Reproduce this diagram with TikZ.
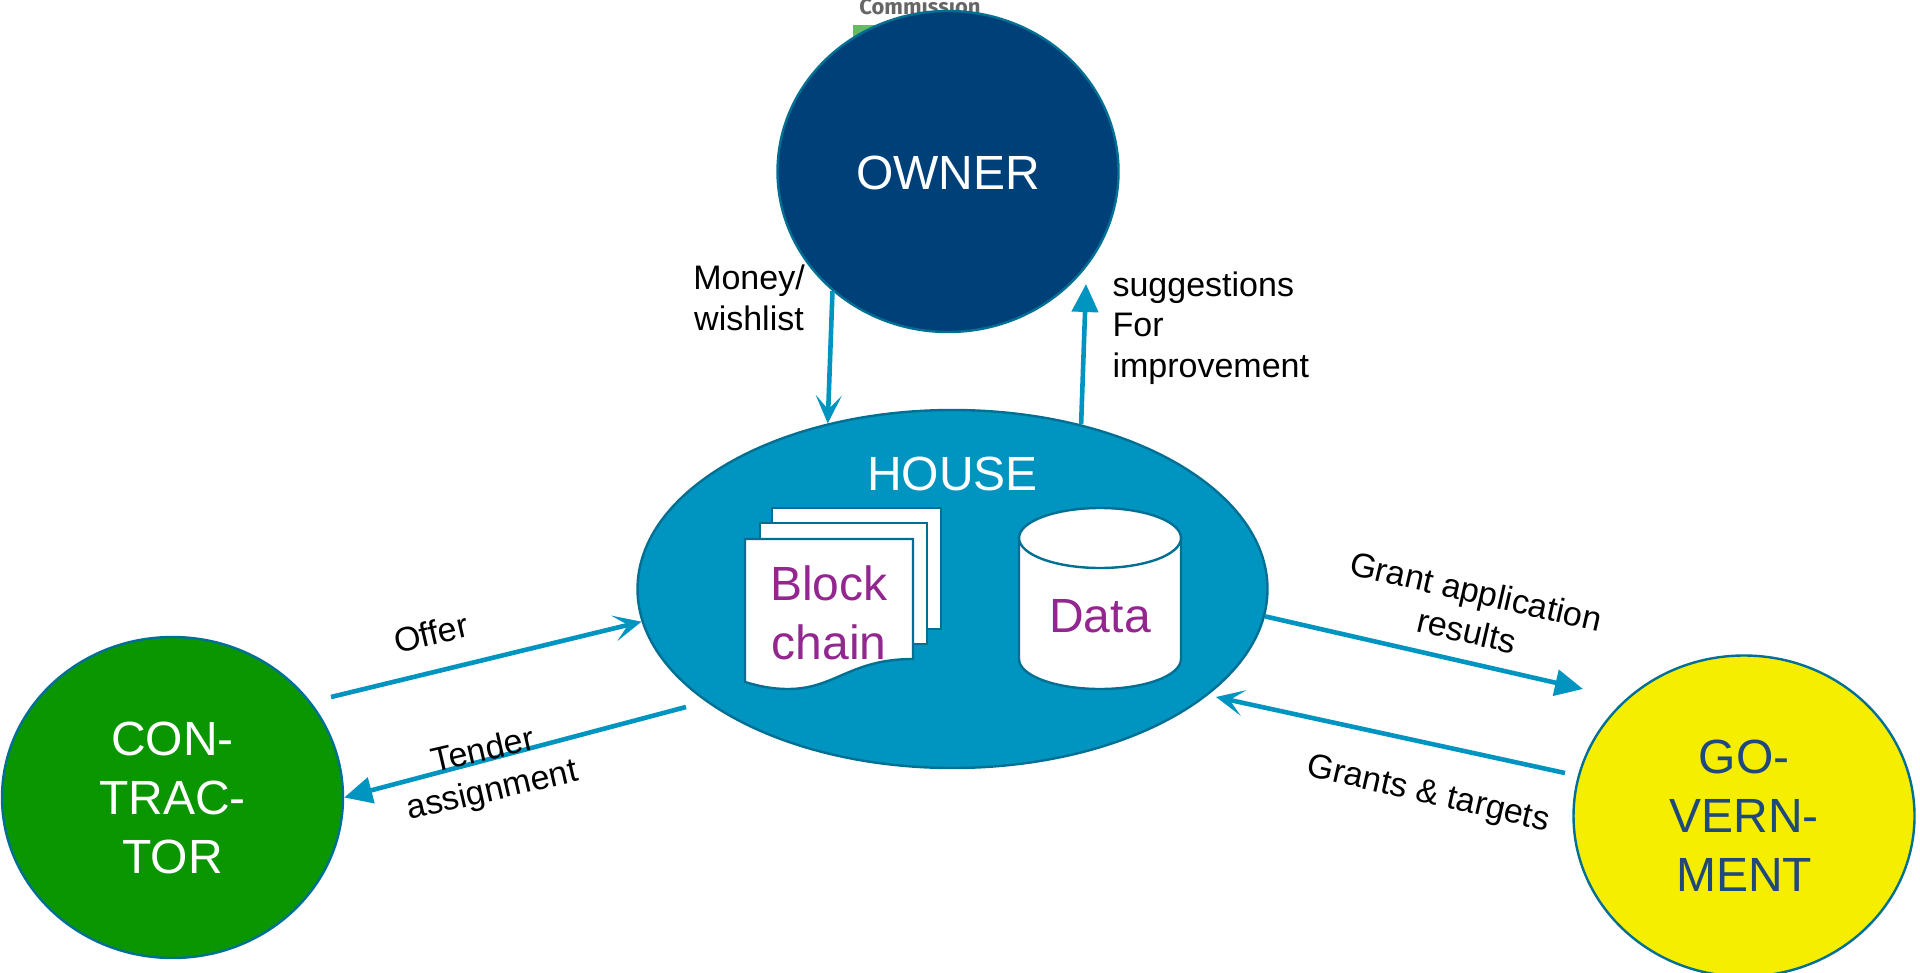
\documentclass[tikz,border=0pt]{standalone}
\usepackage{fontspec}
\setmainfont{Liberation Sans}
\newfontfamily\logofont{Fira Sans}
\usetikzlibrary{arrows.meta, shapes.geometric}

\definecolor{flowblue}{HTML}{0094C0}
\definecolor{edgeblue}{HTML}{006F94}
\definecolor{ownerblue}{HTML}{004078}
\definecolor{tradegreen}{HTML}{0A9600}
\definecolor{govyellow}{HTML}{F5EE00}
\definecolor{govtext}{HTML}{1F497D}
\definecolor{storepurple}{HTML}{93278F}

\tikzset{
	actor/.style = {ellipse, draw = edgeblue, line width = 1.2pt, inner sep = 0pt, align = center, font = \fontsize{24}{29.5}\selectfont},
	sheet/.style = {draw = edgeblue, fill = white, line width = 1.2pt},
	store/.style = {align = center, text = storepurple, font = \fontsize{24}{29.5}\selectfont},
	flow/.style = {color = flowblue, line width = 2.3pt},
	open/.style = {flow, -{Stealth[length = 14pt, width = 13pt, inset = 7pt]}},
	solid/.style = {flow, -{Triangle[length = 14pt, width = 13pt]}},
	lab/.style = {align = center, font = \fontsize{17}{20.3}\selectfont}
}

\begin{document}
\begin{tikzpicture}[x = 0.5pt, y = -0.5pt]

	\useasboundingbox (0, 0) rectangle (1920, 973);

	% Scrap of the slide behind the owner
	
	\fill [green!55!black!60!white] (853, 25) rectangle (900, 60);
	\node (commission) [anchor = base, text = black!60, font = \logofont\bfseries\fontsize{11}{13}\selectfont] at (920, 15) {Commission};

	% The four parties
	
	\node (owner) [actor, fill = ownerblue, text = white, minimum width = 170.5pt, minimum height = 160.5pt, text height = 18pt] at (948, 171.5) {OWNER};
	\node (house) [actor, fill = flowblue, minimum width = 315pt, minimum height = 179pt] at (952.5, 589) {};
	\node (contractor) [actor, fill = tradegreen, text = white, minimum width = 170.5pt, minimum height = 160.5pt] at (172.5, 797.5) {CON-\\TRAC-\\TOR};
	\node (government) [actor, fill = govyellow, text = govtext, minimum width = 170.5pt, minimum height = 160.5pt] at (1744, 816) {GO-\\VERN-\\MENT};
	
	\node (house-title) [text = white, font = \fontsize{24}{29}\selectfont] at (952.5, 474) {HOUSE};

	% Stack of sheets
	
	\draw [sheet] (772, 508) rectangle (941, 629);
	\draw [sheet] (760, 523) rectangle (927, 644);
	\draw [sheet] (745, 539) -- (913, 539) -- (913, 659)
		.. controls (850, 659) and (835, 689) .. (788, 689)
		.. controls (772, 689) and (758, 686) .. (745, 682) -- cycle;
	\node (blockchain) [store] at (829, 613) {Block\\chain};

	% Data drum
	
	\draw [sheet] (1019, 538) -- (1019, 659) arc [start angle = 180, end angle = 360, x radius = 81, y radius = -30] -- (1181, 538) arc [start angle = 0, end angle = 180, x radius = 81, y radius = -30];
	\draw [sheet] (1019, 538) arc [start angle = 180, end angle = 360, x radius = 81, y radius = -30];
	\node (data) [store] at (1100, 616) {Data};

	% Loose ends of the flows
	
	\coordinate (improve-end) at (1086, 284);
	\coordinate (offer-start) at (331, 697);
	\coordinate (tender-start) at (686, 707);
	\coordinate (results-end) at (1583, 689);
	\coordinate (grants-start) at (1565, 773);
	\coordinate (grants-end) at (1216, 697);

	\draw [open] (owner.226) -- (house.127);
	\draw [solid] (house.52) -- (improve-end);
	\draw [open] (offer-start) -- (house.186);
	\draw [solid] (tender-start) -- (contractor.east);
	\draw [solid] (house.-5) -- (results-end);
	\draw [open] (grants-start) -- (grants-end);

	% Labels
	
	\node (money) [lab] at (749, 298) {Money/\\wishlist};
	\node (improve) [lab, anchor = west, align = left] at (1105.5, 328) {suggestions\\For\\improvement};
	\node (offer) [lab, rotate = 13] at (431, 633) {Offer};
	\node (tender) [lab, rotate = 13] at (488, 772) {Tender\\assignment};
	\node (results) [lab, rotate = -13] at (1471.5, 611) {Grant application\\results};
	\node (grants) [lab, rotate = -13] at (1428, 795) {Grants \& targets};

\end{tikzpicture}
\end{document}
